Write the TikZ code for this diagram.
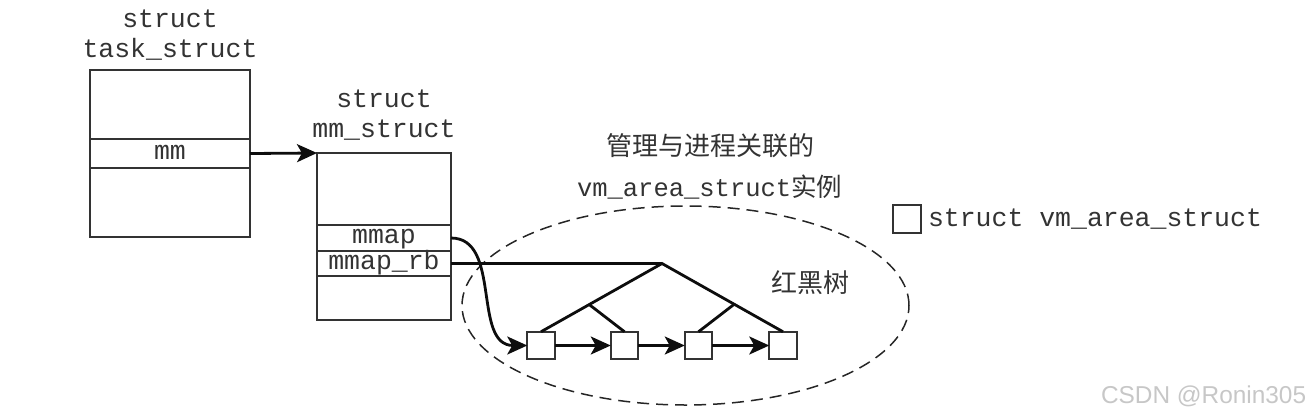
\documentclass[tikz,border=0pt]{standalone}
\usepackage{fontspec}
\setmonofont{Liberation Mono}
\newfontfamily\cjk{Noto Sans CJK SC}
\newfontfamily\wmfont{Liberation Sans}
\usetikzlibrary{arrows.meta,shapes.geometric}
\begin{document}
\begin{tikzpicture}[x=1pt,y=-1pt,
  every node/.style={inner sep=0pt,outer sep=0pt},
  cell/.style={draw=black!80,line width=1.7pt,fill=white,minimum width=#1,
    font=\fontsize{26.5}{30}\ttfamily,text=black!80,text height=11pt,text depth=0pt},
  ttl/.style={anchor=base,font=\fontsize{26.5}{30}\ttfamily,text=black!80},
  cjklbl/.style={font=\fontsize{26}{30}\cjk,text=black!80},
  vma/.style={draw=black!80,line width=1.7pt,fill=white,minimum size=27.5pt},
  link/.style={line width=2.8pt,black!95},
  arr/.style={link,-{Stealth[length=20pt,width=18pt,inset=5pt]}},
  oval/.style={draw=black!85,line width=1.5pt,dash pattern=on 12pt off 7pt}
]
\useasboundingbox (0,0) rectangle (1312,416);

% task_struct
\node[ttl] (t1) at (170,27) {struct};
\node[ttl] (t2) at (170,57) {task\_struct};
\node[cell=160pt,minimum height=69pt] (ta) at (170,104.5) {};
\node[cell=160pt,minimum height=29pt] (tmm) at (170,153.5) {mm};
\node[cell=160pt,minimum height=69pt] (tc) at (170,202.5) {};

% mm_struct
\node[ttl] (m1) at (384,107) {struct};
\node[ttl] (m2) at (384,137) {mm\_struct};
\node[cell=134pt,minimum height=72pt] (ma) at (384,189) {};
\node[cell=134pt,minimum height=26pt] (mmap) at (384,238) {mmap};
\node[cell=134pt,minimum height=25pt] (mrb) at (384,263.5) {mmap\_rb};
\node[cell=134pt,minimum height=44pt] (md) at (384,298) {};

% oval
\node[oval,ellipse,minimum width=447pt,minimum height=199pt] (ov) at (685.5,305.5) {};

% captions
\node[cjklbl] (c1) at (710,146) {管理与进程关联的};
\node[anchor=base west,font=\fontsize{25.5}{30}\ttfamily,text=black!80] (c2) at (577,196) {vm\_area\_struct{\cjk 实例}};
\node[cjklbl] (rb) at (810,283) {红黑树};

% leaves
\node[vma] (v1) at (541,345.5) {};
\node[vma] (v2) at (624.5,345.5) {};
\node[vma] (v3) at (698.5,345.5) {};
\node[vma] (v4) at (783,345.5) {};

% tree
\coordinate (root) at (662,263.5);
\coordinate (ml) at (588.5,304);
\coordinate (mr) at (734.5,304);
\draw[link] (mrb.east) -- (root);
\draw[link,line join=miter] (v1.north) -- (root) -- (v4.north);
\draw[link] (ml) -- (v2.north);
\draw[link] (mr) -- (v3.north);

% arrows
\draw[arr] (tmm.east) -- (ma.north west);
\draw[arr] (mmap.east) .. controls (502,238) and (472,345.5) .. (v1.west);
\draw[arr] (v1) -- (v2);
\draw[arr] (v2) -- (v3);
\draw[arr] (v3) -- (v4);

% legend
\node[vma,minimum size=28pt] (lg) at (907,219) {};
\node[anchor=base west,font=\fontsize{26.5}{30}\ttfamily,text=black!80] (lgt) at (928,226) {struct vm\_area\_struct};

% watermark
\node[anchor=base west,font=\fontsize{24.4}{28}\wmfont,text=black!22] (wm) at (1101,403) {CSDN @Ronin305};
\end{tikzpicture}
\end{document}
